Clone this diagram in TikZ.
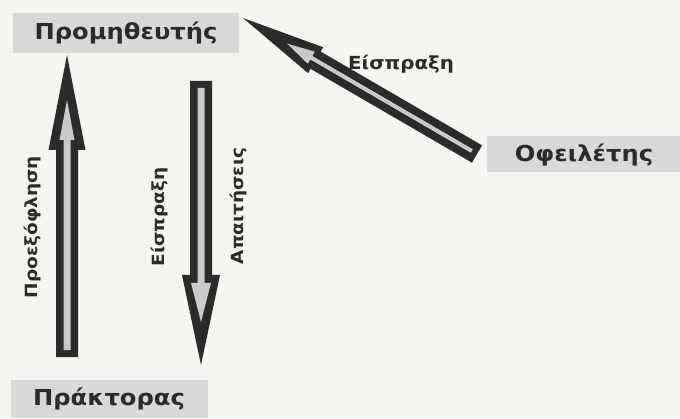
\documentclass[tikz,border=0pt]{standalone}
\usepackage{fontspec}
\setmainfont{DejaVu Sans}
\newfontfamily\labfont[FakeStretch=1.1]{DejaVu Sans}
\usetikzlibrary{calc}
\definecolor{bg}{HTML}{F5F5F3}
\definecolor{boxgray}{HTML}{D9D9D9}
\definecolor{ink}{HTML}{2B2B2B}
\definecolor{innergray}{HTML}{CACACA}
\newcommand\blockpoly[6]{% style, tail, tip, shafthalf, headhalf, headlen
  \coordinate (bp-h) at ($(#3)!#6!(#2)$);
  \fill[#1] ($(#2)!#4!90:(#3)$) -- ($(bp-h)!#4!-90:(#2)$) -- ($(bp-h)!#5!-90:(#2)$) -- (#3)
    -- ($(bp-h)!#5!90:(#2)$) -- ($(bp-h)!#4!90:(#2)$) -- ($(#2)!#4!-90:(#3)$) -- cycle;
}
\tikzset{
  box/.style={fill=boxgray, inner sep=0pt, text=ink, font=\labfont\bfseries\fontsize{22}{26}\selectfont},
  lbl/.style={inner sep=0pt, text=ink, font=\labfont\bfseries\fontsize{18}{22}\selectfont},
  vlbl/.style={inner sep=0pt, text=ink, rotate=90, font=\labfont\bfseries\fontsize{16.8}{20}\selectfont},
  outerarrow/.style={fill=ink},
  innerarrow/.style={fill=innergray}
}
\begin{document}
\begin{tikzpicture}[x=1pt,y=1pt]
\fill[bg] (0,0) rectangle (680,418);
\useasboundingbox (0,0) rectangle (680,418);
% nodes
\node[box, minimum width=226pt, minimum height=40pt] (prom) at (126,385) {Προμηθευτής};
\node[box, minimum width=195pt, minimum height=36pt] (ofe) at (584,263.5) {Οφειλέτης};
\node[box, minimum width=197pt, minimum height=38pt] (prak) at (109,19) {Πράκτορας};
% arrow end points
\coordinate (up-t) at (67,61);
\coordinate (up-p) at (67,363);
\coordinate (dn-t) at (201,337);
\coordinate (dn-p) at (201,53);
\coordinate (dg-t) at (477,264);
\coordinate (dg-p) at (243,400);
\coordinate (upi-t) at ($(up-t)!7pt!(up-p)$);
\coordinate (upi-p) at ($(up-p)!45pt!(up-t)$);
\coordinate (dni-t) at ($(dn-t)!7pt!(dn-p)$);
\coordinate (dni-p) at ($(dn-p)!43pt!(dn-t)$);
\coordinate (dgi-t) at ($(dg-t)!6pt!(dg-p)$);
\coordinate (dgi-p) at ($(dg-p)!51pt!(dg-t)$);
% arrows
\blockpoly{outerarrow}{up-t}{up-p}{11pt}{18.5pt}{95pt}
\blockpoly{innerarrow}{upi-t}{upi-p}{3.5pt}{7.5pt}{40pt}
\blockpoly{outerarrow}{dn-t}{dn-p}{11pt}{19pt}{90pt}
\blockpoly{innerarrow}{dni-t}{dni-p}{3.5pt}{10pt}{39pt}
\blockpoly{outerarrow}{dg-t}{dg-p}{10pt}{15pt}{84pt}
\blockpoly{innerarrow}{dgi-t}{dgi-p}{2pt}{7pt}{28pt}
% labels
\node[lbl] (l-eis1) at (401,354) {Είσπραξη};
\node[vlbl] (l-pro) at (33,191) {Προεξόφληση};
\node[vlbl] (l-eis2) at (160,201) {Είσπραξη};
\node[vlbl] (l-apa) at (239,212) {Απαιτήσεις};
\end{tikzpicture}
\end{document}
